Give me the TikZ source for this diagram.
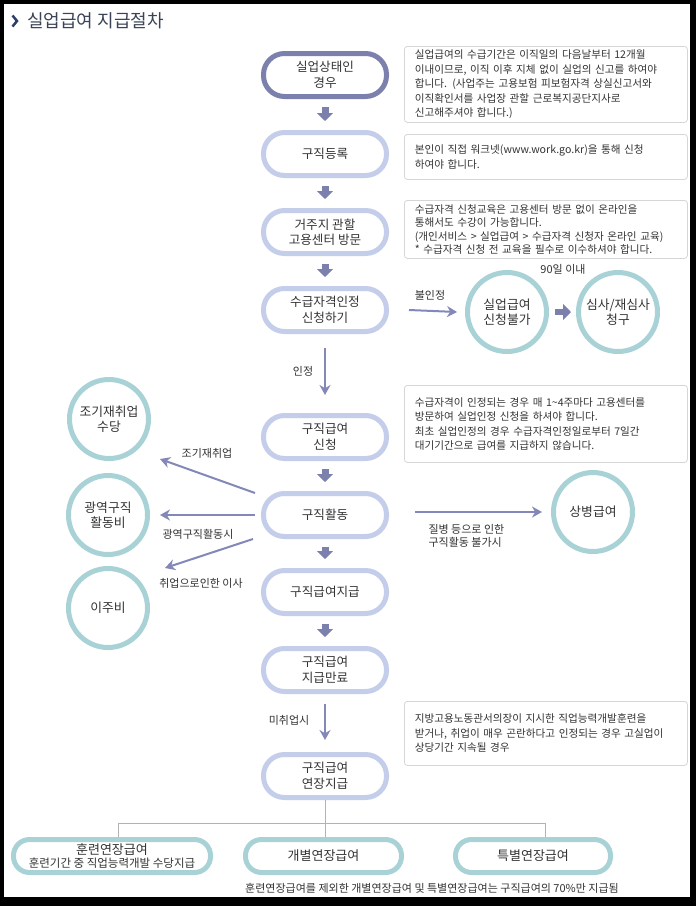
\documentclass[tikz,border=0pt]{standalone}
\usepackage{fontspec}
\setmainfont{Noto Sans CJK KR}
\usetikzlibrary{arrows.meta}

\definecolor{slate}{HTML}{7B80AD}
\definecolor{lav}{HTML}{C4CEEB}
\definecolor{tealring}{HTML}{A9D2D6}
\definecolor{ink}{HTML}{333333}
\definecolor{notegray}{HTML}{D6D6D6}
\definecolor{arrowc}{HTML}{8388B8}
\definecolor{titlec}{HTML}{3A4357}
\definecolor{navy}{HTML}{2C3E6B}

\begin{document}
\begin{tikzpicture}[x=1pt,y=-1pt,
  pill/.style={draw=lav,line width=5pt,rounded corners=21pt,minimum width=123pt,
    minimum height=43pt,align=center,font=\fontsize{12.6}{15.5}\selectfont,text=ink},
  ring/.style={circle,draw=tealring,line width=5pt,minimum size=79pt,inner sep=0pt,
    align=center,font=\fontsize{12.8}{15.5}\selectfont,text=ink},
  longpill/.style={draw=tealring,line width=5pt,rounded corners=16pt,minimum height=33pt,
    align=center,font=\fontsize{13}{14}\selectfont,text=ink},
  note/.style={draw=notegray,line width=0.8pt,rounded corners=3pt,anchor=north west,
    minimum width=283pt,inner xsep=10.5pt,text width=262pt,align=left,
    font=\fontsize{10.6}{14.5}\selectfont,text=ink},
  fat/.style={draw=slate,line width=7pt,-{Triangle[width=16pt,length=8pt]}},
  link/.style={draw=arrowc,line width=2pt,-{Stealth[length=10pt,width=11pt]}},
  lbl/.style={font=\fontsize{11}{13}\selectfont,text=ink,align=left},
  busline/.style={draw=gray!60,line width=0.8pt}]

  % frame
  \useasboundingbox (0,0) rectangle (696,906);
  \fill[black] (0,0) rectangle (696,906);
  \fill[white] (4,4) rectangle (690,897);

  % title
  \draw[navy,line width=2.5pt] (12.5,15.5) -- (17,21) -- (12.5,26.5);
  \node[anchor=west,inner sep=0pt,font=\fontsize{18}{20}\selectfont,text=titlec] (title) at (27,21) {실업급여 지급절차};

  % main column
  \node[pill,draw=slate] (p1) at (325,75) {실업상태인\\경우};
  \node[pill] (p2) at (325,154) {구직등록};
  \node[pill] (p3) at (325,232) {거주지 관할\\고용센터 방문};
  \node[pill] (p4) at (325,310) {수급자격인정\\신청하기};
  \node[pill] (p5) at (325,437) {구직급여\\신청};
  \node[pill] (p6) at (325,515) {구직활동};
  \node[pill] (p7) at (325,592) {구직급여지급};
  \node[pill] (p8) at (325,670) {구직급여\\지급만료};
  \node[pill] (p9) at (325,776) {구직급여\\연장지급};

  \draw[fat] ([yshift=-8pt]p1.south) -- ([yshift=9pt]p2.north);
  \draw[fat] ([yshift=-8pt]p2.south) -- ([yshift=9pt]p3.north);
  \draw[fat] ([yshift=-8pt]p3.south) -- ([yshift=9pt]p4.north);
  \draw[fat] ([yshift=-8pt]p5.south) -- ([yshift=9pt]p6.north);
  \draw[fat] ([yshift=-8pt]p6.south) -- ([yshift=9pt]p7.north);
  \draw[fat] ([yshift=-8pt]p7.south) -- ([yshift=9pt]p8.north);

  \draw[link] ([yshift=-14pt]p4.south) -- ([yshift=18pt]p5.north);
  \node[lbl] (lokay) at (303,371) {인정};
  \draw[link] ([yshift=-10pt]p8.south) -- ([yshift=12pt]p9.north);
  \node[lbl] (lnojob) at (289,720) {미취업시};

  % notes
  \node[note,minimum height=76pt] (n1) at (404,46) {실업급여의 수급기간은 이직일의 다음날부터 12개월\\이내이므로, 이직 이후 지체 없이 실업의 신고를 하여야\\합니다. (사업주는 고용보험 피보험자격 상실신고서와\\이직확인서를 사업장 관할 근로복지공단지사로\\신고해주셔야 합니다.)};
  \node[note,minimum height=45pt] (n2) at (404,134) {본인이 직접 워크넷(www.work.go.kr)을 통해 신청\\하여야 합니다.};
  \node[note,minimum height=58pt,font=\fontsize{10.6}{13.5}\selectfont] (n3) at (404,200) {수급자격 신청교육은 고용센터 방문 없이 온라인을\\통해서도 수강이 가능합니다.\\(개인서비스 > 실업급여 > 수급자격 신청자 온라인 교육)\\{}* 수급자격 신청 전 교육을 필수로 이수하셔야 합니다.};
  \node[note,minimum height=77pt] (n4) at (404,385) {수급자격이 인정되는 경우 매 1\textasciitilde4주마다 고용센터를\\방문하여 실업인정 신청을 하셔야 합니다.\\최초 실업인정의 경우 수급자격인정일로부터 7일간\\대기기간으로 급여를 지급하지 않습니다.};
  \node[note,minimum height=64pt] (n5) at (404,701) {지방고용노동관서의장이 지시한 직업능력개발훈련을\\받거나, 취업이 매우 곤란하다고 인정되는 경우 고실업이\\상당기간 지속될 경우};

  % rejection branch
  \node[ring] (c1) at (507,312) {실업급여\\신청불가};
  \node[ring] (c2) at (618,312) {심사/재심사\\청구};
  \draw[link] ([xshift=20pt]p4.east) -- ([xshift=-8pt]c1.west);
  \node[lbl] (lno) at (430,295) {불인정};
  \draw[fat,line width=6pt] ([xshift=6pt]c1.east) -- ([xshift=-5pt]c2.west);
  \node[lbl] (l90) at (563,269) {90일 이내};

  % side benefits
  \node[ring] (c3) at (109,419) {조기재취업\\수당};
  \node[ring] (c4) at (108,515) {광역구직\\활동비};
  \node[ring] (c5) at (108,608) {이주비};
  \node[ring] (c6) at (593,512) {상병급여};
  \draw[link] ([xshift=-6pt,yshift=22pt]p6.west) -- ([xshift=51pt,yshift=-40pt]c3.center);
  \node[lbl] (learly) at (207,453) {조기재취업};
  \draw[link] ([xshift=-6pt]p6.west) -- ([xshift=10pt]c4.east);
  \node[lbl] (lwide) at (198,534) {광역구직활동시};
  \draw[link] ([xshift=-8pt,yshift=-24pt]p6.west) -- ([xshift=57pt,yshift=40pt]c5.center);
  \node[lbl] (lmove) at (201,583) {취업으로인한 이사};
  \draw[link] ([xshift=26pt,yshift=3pt]p6.east) -- ([xshift=-9pt]c6.west);
  \node[lbl,anchor=west] (lsick) at (425,536) {질병 등으로 인한\\구직활동 불가시};

  % extension types
  \node[longpill,minimum width=197pt,font=\fontsize{13}{13.5}\selectfont] (b1) at (112,856) {훈련연장급여\\{\fontsize{11.5}{13.5}\selectfont 훈련기간 중 직업능력개발 수당지급}};
  \node[longpill,minimum width=156pt] (b2) at (323.5,856) {개별연장급여};
  \node[longpill,minimum width=155pt] (b3) at (533,856) {특별연장급여};
  \coordinate (bus) at (325,823);
  \draw[busline] (p9.south) -- (bus);
  \draw[busline] ([xshift=6pt]b1.north) |- (bus) -| ([xshift=12pt]b3.north);
  \draw[busline] (bus) -- (bus |- b2.north);
  \node[lbl] (lfoot) at (432,888) {훈련연장급여를 제외한 개별연장급여 및 특별연장급여는 구직급여의 70\%만 지급됨};
\end{tikzpicture}
\end{document}
